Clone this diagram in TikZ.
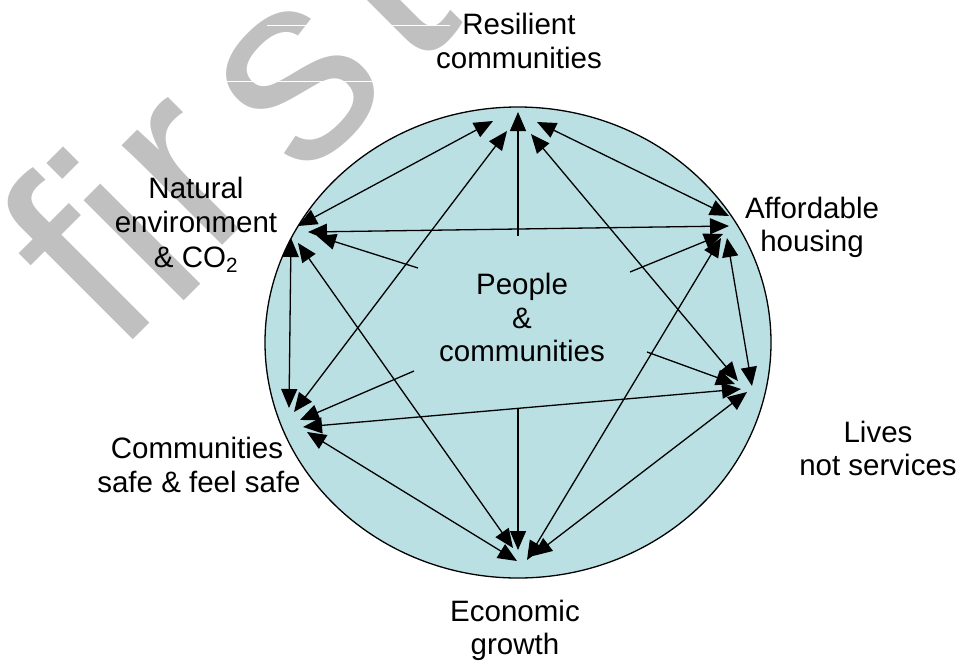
\documentclass[tikz,border=0pt]{standalone}
\usepackage{fontspec}
\setmainfont{Liberation Sans}
\usetikzlibrary{arrows.meta}
\definecolor{discfill}{RGB}{187,224,227}
\definecolor{wmgray}{RGB}{192,192,192}
\begin{document}
\begin{tikzpicture}[x=1pt,y=-1pt,
  lbl/.style={anchor=base, inner sep=0pt, font=\fontsize{29.5}{35}\selectfont},
  link/.style={line width=1.3pt, {Triangle[length=19pt,width=16pt]}-{Triangle[length=19pt,width=16pt]}},
  spoke/.style={line width=1.3pt, -{Triangle[length=19pt,width=16pt]}},
  wmark/.style={anchor=center, inner sep=0pt, text=wmgray, rotate=45, font=\fontsize{268}{268}\selectfont},
]
\useasboundingbox (0,0) rectangle (960,662);
\clip (0,0) rectangle (960,662);
% watermark letters
\node[wmark] (wf) at (74,262) {f};
\node[wmark] (wi) at (124,224) {i};
\node[wmark] (wr) at (190,176) {r};
\node[wmark] (ws) at (300,85) {s};
\node[wmark] (wt) at (378,-12) {t};
\draw[white, line width=0.8pt] (225,81) -- (375,81) (267,25) -- (450,25);
% disc
\draw[line width=1.3pt, fill=discfill] (518,342.5) ellipse [x radius=253pt, y radius=235.5pt];
% hub endpoints
\coordinate (R-N) at (493,121); \coordinate (R-P) at (518,112); \coordinate (R-C) at (507,131);
\coordinate (R-A) at (537,122); \coordinate (R-L) at (531,134);
\coordinate (N-R) at (298,226); \coordinate (N-A) at (308,232); \coordinate (N-P) at (317,236);
\coordinate (N-C) at (291,238); \coordinate (N-E) at (298,243);
\coordinate (A-R) at (729,216); \coordinate (A-N) at (729,226); \coordinate (A-P) at (723,234);
\coordinate (A-E) at (721,238); \coordinate (A-L) at (727,238);
\coordinate (L-A) at (752,386); \coordinate (L-R) at (738,381); \coordinate (L-P) at (735,384);
\coordinate (L-C) at (741,389); \coordinate (L-E) at (747,392);
\coordinate (E-N) at (513,548); \coordinate (E-C) at (517,561); \coordinate (E-P) at (518,550);
\coordinate (E-A) at (527,560); \coordinate (E-L) at (533,556);
\coordinate (C-N) at (289,408); \coordinate (C-R) at (294,412); \coordinate (C-P) at (300,420);
\coordinate (C-L) at (303,427); \coordinate (C-E) at (307,432);
% spoke starts
\coordinate (P-R) at (518,236); \coordinate (P-N) at (418,268); \coordinate (P-C) at (414,371);
\coordinate (P-E) at (518,408); \coordinate (P-L) at (647,352); \coordinate (P-A) at (630,272);
% links between outer items
\draw[link] (N-R) -- (R-N);
\draw[link] (R-A) -- (A-R);
\draw[link] (R-L) -- (L-R);
\draw[link] (R-C) -- (C-R);
\draw[link] (N-A) -- (A-N);
\draw[link] (N-E) -- (E-N);
\draw[link] (N-C) -- (C-N);
\draw[link] (A-L) -- (L-A);
\draw[link] (A-E) -- (E-A);
\draw[link] (L-E) -- (E-L);
\draw[link] (L-C) -- (C-L);
\draw[link] (C-E) -- (E-C);
% spokes from the centre
\draw[spoke] (P-R) -- (R-P);
\draw[spoke] (P-N) -- (N-P);
\draw[spoke] (P-C) -- (C-P);
\draw[spoke] (P-E) -- (E-P);
\draw[spoke] (P-L) -- (L-P);
\draw[spoke] (P-A) -- (A-P);
% labels
\node[lbl] (res1) at (519,34) {Resilient};
\node[lbl] (res2) at (519,68) {communities};
\node[lbl] (nat1) at (196,198) {Natural};
\node[lbl] (nat2) at (196,232) {environment};
\node[lbl] (nat3) at (196,267) {\& CO\textsubscript{2}};
\node[lbl] (aff1) at (812,218) {Affordable};
\node[lbl] (aff2) at (812,251) {housing};
\node[lbl] (liv1) at (878,442) {Lives};
\node[lbl] (liv2) at (878,475) {not services};
\node[lbl] (com1) at (197,458) {Communities};
\node[lbl] (com2) at (199,492) {safe \& feel safe};
\node[lbl] (eco1) at (515,621) {Economic};
\node[lbl] (eco2) at (515,654) {growth};
\node[lbl] (ppl1) at (522,294) {People};
\node[lbl] (ppl2) at (522,328) {\&};
\node[lbl] (ppl3) at (522,361) {communities};
\end{tikzpicture}
\end{document}
